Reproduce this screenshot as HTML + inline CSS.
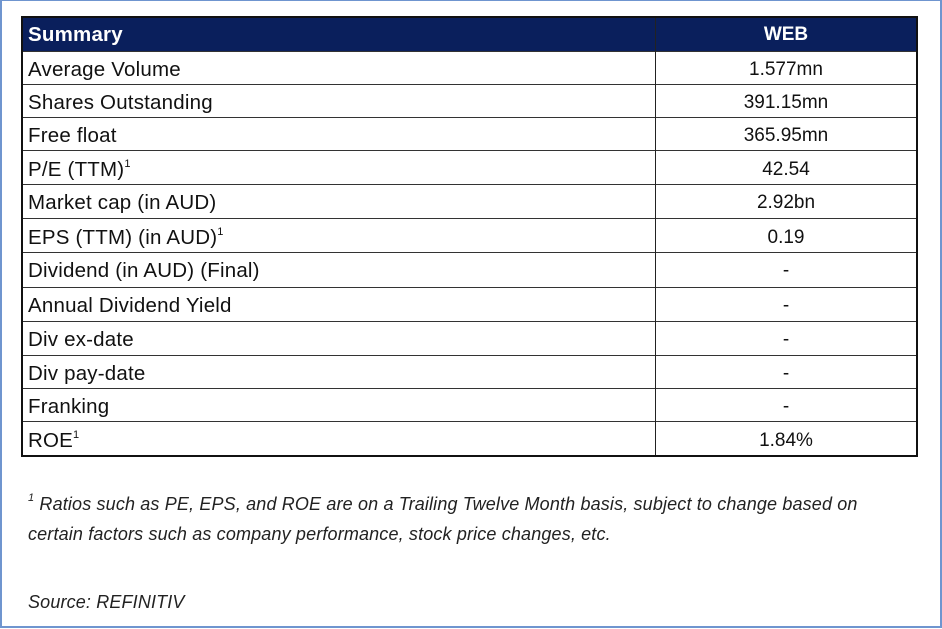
<!DOCTYPE html>
<html><head><meta charset="utf-8"><style>
body{margin:0;width:942px;height:629px;background:#fff;font-family:"Liberation Sans",sans-serif;position:relative;overflow:hidden}
#frame{position:absolute;left:0;top:0;width:938px;height:625px;border:2px solid #6f95cf;border-top-width:1px}
#tbl{position:absolute;left:21px;top:16px;width:893px;height:437px;border:2px solid #111}
.row{position:absolute;left:0;width:893px;border-top:1px solid #333;font-size:19px;color:#111}
.row .l{position:absolute;left:5px;top:0;line-height:var(--h);font-size:20.5px;letter-spacing:0.2px}
.row .r{position:absolute;left:633px;width:260px;text-align:center;top:0;line-height:var(--h)}
.div{position:absolute;left:632px;top:0;width:1px;height:437px;background:#222}
.hdr{background:#0a1f5c;color:#fff;font-weight:bold;border-top:none}
sup{font-size:11px;vertical-align:9px;line-height:0}
.note{position:absolute;left:28px;font-style:italic;font-size:18px;letter-spacing:0.15px;color:#222}
</style></head><body>
<div id="frame"></div>
<div id="tbl">
<div class="row hdr" style="top:0;height:33px;--h:33px"><span class="l">Summary</span><span class="r">WEB</span></div>
<div class="row" style="top:33px;height:33px;--h:35px"><span class="l">Average Volume</span><span class="r">1.577mn</span></div>
<div class="row" style="top:66px;height:33px;--h:35px"><span class="l">Shares Outstanding</span><span class="r">391.15mn</span></div>
<div class="row" style="top:99px;height:33px;--h:35px"><span class="l">Free float</span><span class="r">365.95mn</span></div>
<div class="row" style="top:132px;height:34px;--h:38px"><span class="l">P/E (TTM)<sup>1</sup></span><span class="r">42.54</span></div>
<div class="row" style="top:166px;height:34px;--h:36px"><span class="l">Market cap (in AUD)</span><span class="r">2.92bn</span></div>
<div class="row" style="top:200px;height:34px;--h:38px"><span class="l">EPS (TTM) (in AUD)<sup>1</sup></span><span class="r">0.19</span></div>
<div class="row" style="top:234px;height:35px;--h:36px"><span class="l">Dividend (in AUD) (Final)</span><span class="r">-</span></div>
<div class="row" style="top:269px;height:34px;--h:36px"><span class="l">Annual Dividend Yield</span><span class="r">-</span></div>
<div class="row" style="top:303px;height:34px;--h:36px"><span class="l">Div ex-date</span><span class="r">-</span></div>
<div class="row" style="top:337px;height:33px;--h:36px"><span class="l">Div pay-date</span><span class="r">-</span></div>
<div class="row" style="top:370px;height:33px;--h:36px"><span class="l">Franking</span><span class="r">-</span></div>
<div class="row" style="top:403px;height:34px;--h:38px"><span class="l">ROE<sup>1</sup></span><span class="r">1.84%</span></div>
<div class="div"></div>
</div>
<div class="note" style="top:494px"><sup>1</sup> Ratios such as PE, EPS, and ROE are on a Trailing Twelve Month basis, subject to change based on</div>
<div class="note" style="top:524px">certain factors such as company performance, stock price changes, etc.</div>
<div class="note" style="top:592px">Source: REFINITIV</div>
</body></html>
